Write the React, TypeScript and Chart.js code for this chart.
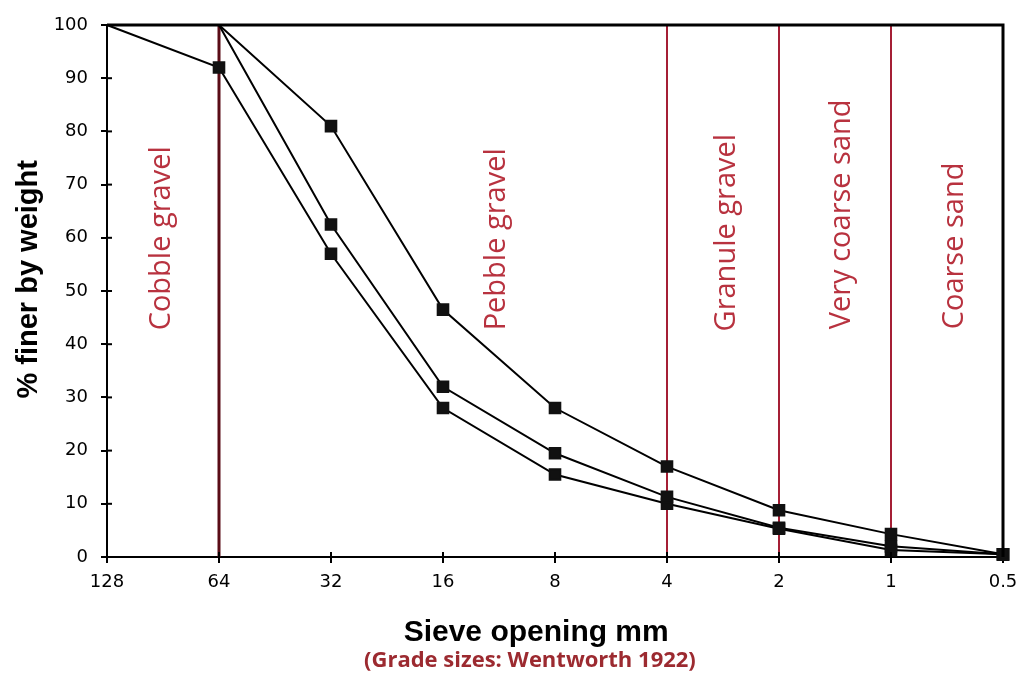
import React, { useEffect, useRef } from "react";
import { Chart, registerables } from "chart.js";

Chart.register(...registerables);

// ---- data ----
const sieveSizes = ["128", "64", "32", "16", "8", "4", "2", "1", "0.5"];
const coarseSample = [null, 100, 81, 46.5, 28, 17, 8.8, 4.3, 0.5];
const middleSample = [null, 100, 62.5, 32, 19.5, 11.3, 5.5, 2, 0.5];
const fineSample = [100, 92, 57, 28, 15.5, 10, 5.3, 1.3, 0.5];
const yTicks = [0, 10, 20, 30, 40, 50, 60, 70, 80, 90, 100];

// grade boundaries (Wentworth 1922)
const boundarySizes = ["64", "4", "2", "1"];
const gradeNames = ["Cobble gravel", "Pebble gravel", "Granule gravel", "Very coarse sand", "Coarse sand"];

const xTitle = "Sieve opening mm";
const yTitle = "% finer by weight";
const sourceNote = "(Grade sizes: Wentworth 1922)";

// label anchors (category index, value where the rotated text starts)
const gradeLabelIndex = [0.49, 3.48, 5.53, 6.56, 7.57];
const gradeLabelValue = [42.6, 42.6, 42.4, 42.8, 42.8];

const RED = "#a51f35";
const LABEL_RED = "#b8323f";

const decorPlugin = {
  id: "decor",
  beforeDatasetsDraw(chart: any) {
    const { ctx, chartArea, scales } = chart;
    const x = scales.x;
    ctx.save();
    boundarySizes.forEach((s) => {
      const px = x.getPixelForValue(sieveSizes.indexOf(s));
      ctx.strokeStyle = s === "64" ? "#5a0c16" : RED;
      ctx.lineWidth = s === "64" ? 3 : 2;
      ctx.beginPath();
      ctx.moveTo(px, chartArea.top);
      ctx.lineTo(px, chartArea.bottom);
      ctx.stroke();
    });
    // region labels
    ctx.fillStyle = LABEL_RED;
    ctx.font = "29px 'Open Sans'";
    ctx.textAlign = "left";
    ctx.textBaseline = "middle";
    gradeNames.forEach((name, i) => {
      const px = x.getPixelForValue(gradeLabelIndex[i]);
      const py = scales.y.getPixelForValue(gradeLabelValue[i]);
      ctx.save();
      ctx.translate(px, py);
      ctx.rotate(-Math.PI / 2);
      ctx.fillText(name, 0, 0);
      ctx.restore();
    });
    ctx.restore();
  },
  afterDatasetsDraw(chart: any) {
    const { ctx, chartArea, scales } = chart;
    ctx.save();
    ctx.strokeStyle = "#000";
    // frame: top and right
    ctx.lineWidth = 3;
    ctx.beginPath();
    ctx.moveTo(chartArea.left, chartArea.top);
    ctx.lineTo(chartArea.right, chartArea.top);
    ctx.lineTo(chartArea.right, chartArea.bottom);
    ctx.stroke();
    // inner tick extensions
    ctx.lineWidth = 2;
    yTicks.forEach((v) => {
      const py = scales.y.getPixelForValue(v);
      ctx.beginPath();
      ctx.moveTo(chartArea.left, py);
      ctx.lineTo(chartArea.left + 5, py);
      ctx.stroke();
    });
    sieveSizes.forEach((_, i) => {
      const px = scales.x.getPixelForValue(i);
      ctx.beginPath();
      ctx.moveTo(px, chartArea.bottom);
      ctx.lineTo(px, chartArea.bottom - 5);
      ctx.stroke();
    });
    ctx.restore();
  },
  afterDraw(chart: any) {
    const { ctx, chartArea } = chart;
    const w = chartArea.right - chartArea.left;
    const h = chartArea.bottom - chartArea.top;
    ctx.save();
    ctx.textAlign = "center";
    ctx.textBaseline = "middle";
    // x title
    ctx.fillStyle = "#000";
    ctx.font = "bold 30px 'Liberation Sans'";
    ctx.fillText(xTitle, chartArea.left + w * 0.479, chartArea.bottom + 76);
    // source note
    ctx.fillStyle = "#9c2a30";
    ctx.font = "bold 22px 'Open Sans'";
    ctx.fillText(sourceNote, chartArea.left + w * 0.472, chartArea.bottom + 104);
    // y title
    ctx.fillStyle = "#000";
    ctx.font = "bold 29px 'Liberation Sans'";
    ctx.translate(chartArea.left - 78, chartArea.top + h * 0.478);
    ctx.rotate(-Math.PI / 2);
    ctx.fillText(yTitle, 0, 0);
    ctx.restore();
  },
};

const pointSize = (c: any) => (c.raw === 100 ? 0 : 7.5);

function makeDataset(label: string, data: (number | null)[]) {
  return {
    label,
    data,
    borderColor: "#000",
    backgroundColor: "#000",
    borderWidth: 2,
    pointStyle: "rect" as const,
    pointRadius: pointSize,
    pointBackgroundColor: "#111",
    pointBorderColor: "#111",
    spanGaps: false,
    tension: 0,
    clip: false as any,
  };
}

export default function App() {
  const canvasRef = useRef<HTMLCanvasElement>(null);

  useEffect(() => {
    if (!canvasRef.current) return;
    const chart = new Chart(canvasRef.current, {
      type: "line",
      data: {
        labels: sieveSizes,
        datasets: [
          makeDataset("Sample A", coarseSample),
          makeDataset("Sample B", middleSample),
          makeDataset("Sample C", fineSample),
        ],
      },
      options: {
        animation: false,
        responsive: true,
        maintainAspectRatio: false,
        layout: { padding: { left: 0, right: 28, top: 25, bottom: 0 } },
        plugins: {
          legend: { display: false },
          tooltip: { enabled: false },
          title: { display: false },
        },
        scales: {
          x: {
            type: "category",
            offset: false,
            afterFit: (s: any) => {
              s.height = 120;
            },
            grid: {
              drawOnChartArea: false,
              drawTicks: true,
              tickLength: 6,
              color: "#000",
              lineWidth: 2,
            },
            border: { display: true, color: "#000", width: 2 },
            ticks: {
              color: "#000",
              font: { family: "DejaVu Sans", size: 18 },
              padding: 9,
              maxRotation: 0,
              autoSkip: false,
            },
          },
          y: {
            min: 0,
            max: 100,
            afterFit: (s: any) => {
              s.width = 107;
            },
            afterBuildTicks: (s: any) => {
              s.ticks = yTicks.map((v) => ({ value: v }));
            },
            grid: {
              drawOnChartArea: false,
              drawTicks: true,
              tickLength: 6,
              color: "#000",
              lineWidth: 2,
            },
            border: { display: true, color: "#000", width: 2 },
            ticks: {
              color: "#000",
              font: { family: "DejaVu Sans", size: 18 },
              padding: 13,
            },
          },
        },
      },
      plugins: [decorPlugin],
    });
    return () => chart.destroy();
  }, []);

  return (
    <div style={{ position: "fixed", left: 0, top: 0, width: 1031, height: 677, background: "#fff" }}>
      <canvas ref={canvasRef} />
    </div>
  );
}
